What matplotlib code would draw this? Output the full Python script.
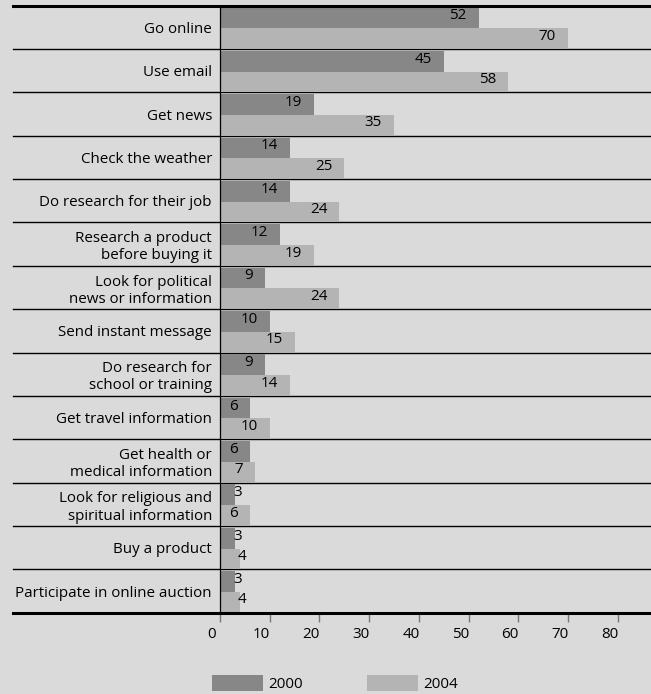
import matplotlib.pyplot as plt
from matplotlib.transforms import ScaledTranslation

# ---------------- DATA ----------------
categories = [
    "Go online",
    "Use email",
    "Get news",
    "Check the weather",
    "Do research for their job",
    "Research a product\nbefore buying it",
    "Look for political\nnews or information",
    "Send instant message",
    "Do research for\nschool or training",
    "Get travel information",
    "Get health or\nmedical information",
    "Look for religious and\nspiritual information",
    "Buy a product",
    "Participate in online auction",
]
vals_2000 = [52, 45, 19, 14, 14, 12, 9, 10, 9, 6, 6, 3, 3, 3]
vals_2004 = [70, 58, 35, 25, 24, 19, 24, 15, 14, 10, 7, 6, 4, 4]
series_names = ["2000", "2004"]
x_ticks = [0, 10, 20, 30, 40, 50, 60, 70, 80]
# --------------------------------------

BG = "#dadada"
DARK = "#878787"
LIGHT = "#b4b4b4"

plt.rcParams["font.family"] = ["Open Sans", "DejaVu Sans"]
plt.rcParams["font.size"] = 10.9

fig = plt.figure(figsize=(6.51, 6.94), dpi=100, facecolor=BG)
ax = fig.add_axes([220 / 651, 1 - 612.7 / 694, 431 / 651, (612.7 - 5.7) / 694])
ax.set_facecolor(BG)

ypos = list(range(len(categories)))
b1 = ax.barh([y - 0.46 for y in ypos], vals_2000, height=0.48, align="edge",
             color=DARK, label=series_names[0], zorder=2)
b2 = ax.barh([y + 0.02 for y in ypos], vals_2004, height=0.46, align="edge",
             color=LIGHT, label=series_names[1], zorder=2)

ax.set_xlim(0, 86.7)
ax.set_ylim(len(categories) - 0.5, -0.5)

# value labels, right side inside the bar (small ones nudged right)
def put_labels(bars, vals):
    for bar, v in zip(bars, vals):
        yc = bar.get_y() + bar.get_height() / 2
        if v < 5:
            ax.annotate(str(v), (v, yc), xytext=(-2, 2), textcoords="offset pixels",
                        ha="left", va="center", zorder=3)
        else:
            ax.annotate(str(v), (v, yc), xytext=(-12, 2), textcoords="offset pixels",
                        ha="right", va="center", zorder=3)

put_labels(b1, vals_2000)
put_labels(b2, vals_2004)

# row separators extending into the label area
left_ext = -(220 - 13) / 431
for i in range(len(categories) - 1):
    ax.axhline(i + 0.5, xmin=left_ext, xmax=1, color="black", lw=1.0, clip_on=False, zorder=1)
ax.axhline(-0.5, xmin=left_ext, xmax=1, color="black", lw=2.2, clip_on=False, zorder=4)
ax.axhline(len(categories) - 0.5, xmin=left_ext, xmax=1, color="black", lw=2.2,
           clip_on=False, zorder=4)

for s in ["top", "right", "bottom"]:
    ax.spines[s].set_visible(False)
ax.spines["left"].set_color("black")
ax.spines["left"].set_linewidth(0.9)
ax.spines["left"].set_zorder(4)

ax.set_yticks(ypos)
ax.set_yticklabels(categories)
ax.tick_params(axis="y", length=0, pad=5.8)

ax.set_xticks(x_ticks)
ax.set_xticklabels([str(t) for t in x_ticks])
ax.tick_params(axis="x", direction="out", length=6.5, width=1, color="#777777", pad=4)
shift = ScaledTranslation(-8 / 100, 0, fig.dpi_scale_trans)
for lab in ax.get_xticklabels():
    lab.set_transform(lab.get_transform() + shift)

fig.legend(handles=[b1, b2], labels=series_names, ncol=2, frameon=False,
           loc="lower left", bbox_to_anchor=(212 / 651, 2 / 694),
           borderpad=0, borderaxespad=0, handlelength=3.4, handleheight=1.32,
           handletextpad=0.33, columnspacing=4.2)

plt.savefig("out.png", dpi=100, facecolor=BG)
